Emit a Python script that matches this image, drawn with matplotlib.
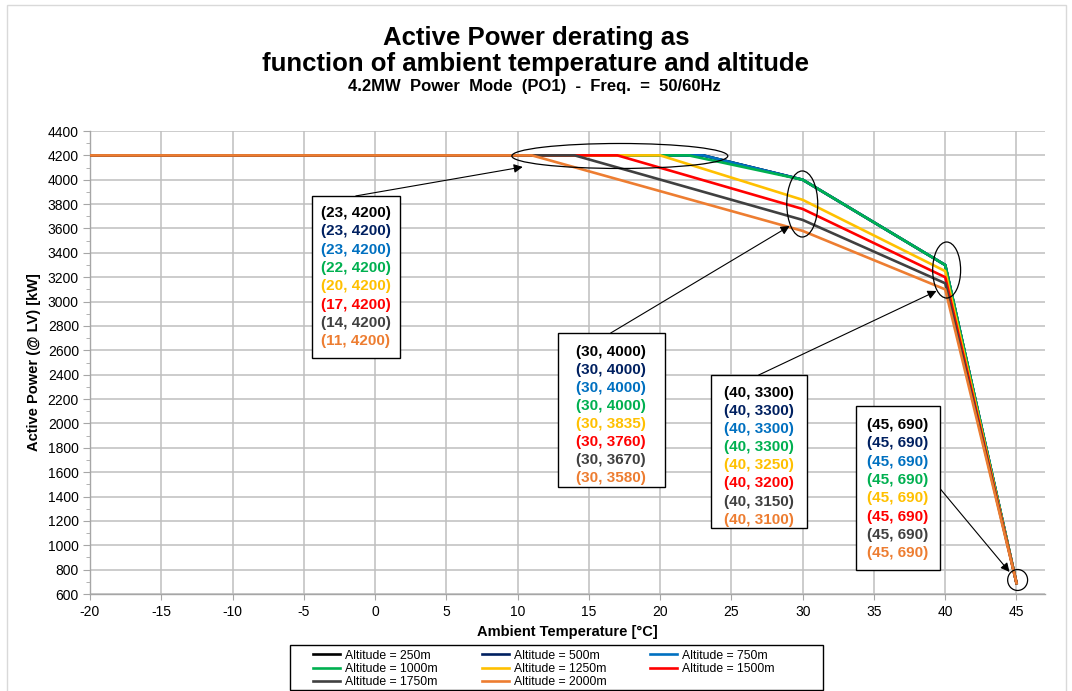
import matplotlib
matplotlib.use("Agg")
import matplotlib.pyplot as plt
from matplotlib.patches import Ellipse, Rectangle

plt.rcParams['font.family'] = ['Liberation Sans', 'DejaVu Sans']
plt.rcParams['axes.unicode_minus'] = False

# derating curves, one per altitude
altitudes = ["Altitude = 250m", "Altitude = 500m", "Altitude = 750m", "Altitude = 1000m",
             "Altitude = 1250m", "Altitude = 1500m", "Altitude = 1750m", "Altitude = 2000m"]
colors = ["#000000", "#002060", "#0070C0", "#00B050", "#FFC000", "#FF0000", "#404040", "#ED7D31"]
t_start = -20
t_break = [23, 23, 23, 22, 20, 17, 14, 11]
p_max = 4200
p_30 = [4000, 4000, 4000, 4000, 3835, 3760, 3670, 3580]
p_40 = [3300, 3300, 3300, 3300, 3250, 3200, 3150, 3100]
p_45 = [690, 690, 690, 690, 690, 690, 690, 690]

fig = plt.figure(figsize=(10.72, 6.91), dpi=100)
ax = fig.add_axes([90 / 1072, 1 - 594 / 691, 955 / 1072, 463 / 691])

lines = []
for i in range(len(altitudes)):
    xs = [t_start, t_break[i], 30, 40, 45]
    ys = [p_max, p_max, p_30[i], p_40[i], p_45[i]]
    ln, = ax.plot(xs, ys, color=colors[i], lw=1.9, label=altitudes[i], zorder=3)
    lines.append(ln)

ax.set_xlim(-20, 47)
ax.set_ylim(600, 4400)
ax.set_xticks(range(-20, 50, 5))
ax.set_yticks(range(600, 4600, 200))
ax.set_yticks(range(600, 4400, 100), minor=True)
ax.grid(True, which='major', color='#BFBFBF', lw=1.1, zorder=0)
for s in ['top', 'right']:
    ax.spines[s].set_visible(False)
for s in ['left', 'bottom']:
    ax.spines[s].set_color('#A6A6A6')
    ax.spines[s].set_linewidth(1.0)
ax.tick_params(axis='both', which='both', colors='#A6A6A6', labelcolor='black', labelsize=10)
ax.tick_params(axis='y', which='major', length=5, pad=3)
ax.tick_params(axis='y', which='minor', length=3)
ax.tick_params(axis='x', which='major', length=4, pad=4)

ax.set_xlabel("Ambient Temperature [°C]", fontsize=10.5, fontweight='bold', labelpad=4)
ax.set_ylabel("Active Power (@ LV) [kW]", fontsize=10.5, fontweight='bold', labelpad=5)

fig.text(0.5, 1 - 38 / 691, "Active Power derating as", ha='center', va='center',
         fontsize=18.5, fontweight='bold')
fig.text(0.5, 1 - 64 / 691, "function of ambient temperature and altitude", ha='center', va='center',
         fontsize=18.5, fontweight='bold')
fig.text(534 / 1072, 1 - 87 / 691, "4.2MW  Power  Mode  (PO1)  -  Freq.  =  50/60Hz",
         ha='center', va='center', fontsize=12, fontweight='bold')

# ellipses around the break points
for (cx, cy, w, h) in [(17.17, 4195, 15.15, 205), (29.97, 3801, 2.17, 542),
                       (40.1, 3259, 1.96, 460), (45.08, 715, 1.4, 172)]:
    ax.add_patch(Ellipse((cx, cy), w, h, fill=False, edgecolor='black', lw=0.9, zorder=4))

# label boxes: (x0, x1, y0, y1, text x, first line y, line step, arrow start, arrow tip)
xs_lbl = [[f"({t}, {p_max})" for t in t_break],
          [f"(30, {p})" for p in p_30],
          [f"(40, {p})" for p in p_40],
          [f"(45, {p})" for p in p_45]]
boxes = [(-4.43, 1.74, 2537, 3867, -1.35, 3727, 150.2, (-1.35, 3867), (10.36, 4105)),
         (12.81, 20.32, 1478, 2742, 16.53, 2586, 147.7, (16.53, 2742), (29.08, 3620)),
         (23.54, 30.27, 1142, 2397, 26.91, 2250, 148.5, (26.91, 2397), (39.39, 3087)),
         (33.71, 39.6, 797, 2143, 36.65, 1987, 150.2, (39.6, 1470), (44.51, 781))]
for labels, (x0, x1, y0, y1, tx, ty, step, a0, a1) in zip(xs_lbl, boxes):
    ax.annotate('', xy=a1, xytext=a0,
                arrowprops=dict(arrowstyle='-|>', color='black', lw=0.8,
                                mutation_scale=13, shrinkA=0, shrinkB=0), zorder=5)
    ax.add_patch(Rectangle((x0, y0), x1 - x0, y1 - y0, facecolor='white',
                           edgecolor='black', lw=1.0, zorder=6))
    for i, s in enumerate(labels):
        ax.text(tx, ty - i * step, s, color=colors[i], fontsize=11, fontweight='bold',
                ha='center', va='center', zorder=7)

# legend, filled row by row like the original
order = [0, 3, 6, 1, 4, 7, 2, 5]
leg = fig.legend([lines[i] for i in order], [altitudes[i] for i in order],
                 loc='center', bbox_to_anchor=(544 / 1072, 1 - 669 / 691), ncol=3,
                 fontsize=8.8, frameon=False,
                 handlelength=2.2, handletextpad=0.4, columnspacing=3.6,
                 labelspacing=0.12, borderpad=0.0, borderaxespad=0.0)
fig.patches.append(Rectangle((290 / 1072, 1 - 690 / 691), 533 / 1072, 45 / 691,
                             transform=fig.transFigure, fill=False, edgecolor='black', lw=1.0))

fig.patches.append(Rectangle((7 / 1072, -0.05), 1059 / 1072, 1.05 - 5 / 691, transform=fig.transFigure,
                             fill=False, edgecolor='#D9D9D9', lw=1.0))

fig.savefig("out.png", dpi=100)
